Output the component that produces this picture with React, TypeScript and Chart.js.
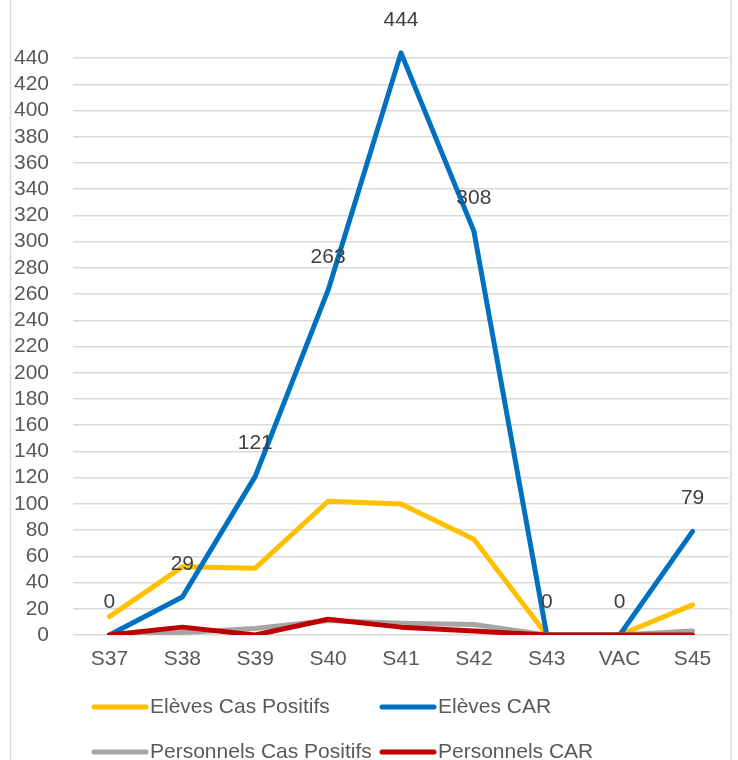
import React, { useEffect, useRef } from "react";
import { Chart, registerables } from "chart.js";

Chart.register(...registerables);

const categories = ["S37", "S38", "S39", "S40", "S41", "S42", "S43", "VAC", "S45"];
const elevesCasPositifs = [14, 52, 51, 102, 100, 73, 0, 0, 23];
const elevesCAR = [0, 29, 121, 263, 444, 308, 0, 0, 79];
const personnelsCasPositifs = [0, 2, 5, 11, 9, 8, 0, 0, 3];
const personnelsCAR = [0, 6, 0, 12, 6, 3, 0, 0, 0];
const yTickValues = [0, 20, 40, 60, 80, 100, 120, 140, 160, 180, 200, 220, 240, 260, 280, 300, 320, 340, 360, 380, 400, 420, 440];
const seriesNames = ["Elèves Cas Positifs", "Elèves CAR", "Personnels Cas Positifs", "Personnels CAR"];
const seriesColors = ["#FFC000", "#0070C0", "#A5A5A5", "#C00000"];

const FONT = "'Liberation Sans', Arial, sans-serif";

export default function App() {
  const ref = useRef<HTMLCanvasElement | null>(null);

  useEffect(() => {
    if (!ref.current) return;

    const frame = {
      id: "frame",
      beforeDraw(chart: any) {
        const ctx = chart.ctx;
        ctx.save();
        ctx.strokeStyle = "#D9D9D9";
        ctx.lineWidth = 1.5;
        ctx.beginPath();
        ctx.moveTo(10.5, 0);
        ctx.lineTo(10.5, chart.height);
        ctx.moveTo(731, 0);
        ctx.lineTo(731, chart.height);
        ctx.stroke();
        ctx.restore();
      },
    };

    const labels = {
      id: "dataLabels",
      afterDatasetsDraw(chart: any) {
        const ctx = chart.ctx;
        const meta = chart.getDatasetMeta(1);
        ctx.save();
        ctx.font = `21px ${FONT}`;
        ctx.fillStyle = "#404040";
        ctx.textAlign = "center";
        ctx.textBaseline = "middle";
        meta.data.forEach((p: any, i: number) => {
          ctx.fillText(String(elevesCAR[i]), p.x, p.y - 33);
        });
        ctx.restore();
      },
    };

    const legend = {
      id: "customLegend",
      afterDraw(chart: any) {
        const ctx = chart.ctx;
        const cols = [92, 380];
        const rows = [707, 752];
        ctx.save();
        ctx.font = `21px ${FONT}`;
        ctx.textBaseline = "middle";
        ctx.textAlign = "left";
        seriesNames.forEach((name, i) => {
          const x = cols[i % 2];
          const y = rows[Math.floor(i / 2)];
          ctx.strokeStyle = seriesColors[i];
          ctx.lineWidth = 5;
          ctx.lineCap = "round";
          ctx.beginPath();
          ctx.moveTo(x + 2, y);
          ctx.lineTo(x + 54, y);
          ctx.stroke();
          ctx.fillStyle = "#595959";
          ctx.fillText(name, x + 58, y);
        });
        ctx.restore();
      },
    };

    const datasets = [elevesCasPositifs, elevesCAR, personnelsCasPositifs, personnelsCAR].map((d, i) => ({
      label: seriesNames[i],
      data: d,
      borderColor: seriesColors[i],
      backgroundColor: seriesColors[i],
      borderWidth: 5,
      pointRadius: 0,
      pointHoverRadius: 0,
      tension: 0,
      fill: false,
      borderCapStyle: "round" as const,
      borderJoinStyle: "round" as const,
      order: 4 - i,
    }));

    const chart = new Chart(ref.current, {
      type: "line",
      data: { labels: categories, datasets },
      options: {
        animation: false,
        responsive: false,
        layout: { padding: { left: 10, right: 9, top: 45, bottom: 80 } },
        plugins: { legend: { display: false }, tooltip: { enabled: false } },
        scales: {
          x: {
            offset: true,
            grid: { display: false, drawTicks: false },
            border: { display: false },
            ticks: { color: "#595959", font: { size: 21, family: FONT }, padding: 12, maxRotation: 0 },
            afterFit(scale: any) {
              scale.height = 45;
            },
          },
          y: {
            min: 0,
            max: 450,
            grid: { color: "#D9D9D9", lineWidth: 1.5, drawTicks: false },
            border: { display: false },
            ticks: { color: "#595959", font: { size: 21, family: FONT }, padding: 24, autoSkip: false },
            afterBuildTicks(scale: any) {
              scale.ticks = yTickValues.map((v) => ({ value: v }));
            },
            afterFit(scale: any) {
              scale.width = 63;
            },
          },
        },
      },
      plugins: [frame, labels, legend],
    });

    return () => chart.destroy();
  }, []);

  return (
    <div style={{ position: "absolute", left: 0, top: 0, width: 738, height: 760, background: "#fff" }}>
      <canvas ref={ref} width={738} height={760} />
    </div>
  );
}
